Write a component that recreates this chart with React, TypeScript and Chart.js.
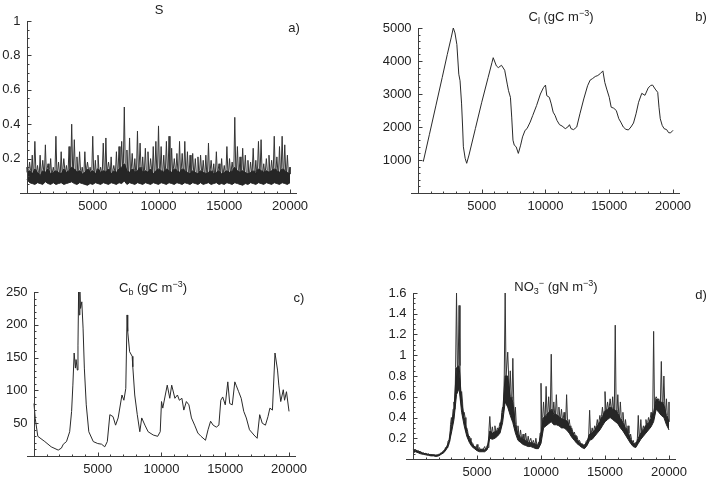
import React, { useEffect, useRef } from "react";
import { Chart, registerables } from "chart.js";

Chart.register(...registerables);

// ---------- shared axis values ----------
const X_TICKS = [5000, 10000, 15000, 20000];
const X_RANGE = [-500, 20500];
const T_END = 20000;
const SAMPLE_STEP = 200; // spacing of the noisy samples (panels a and d)

// ---------- panel a: S (bottom edge / dense core top / spike tops) ----------
const S_LOW = [
  0.08, 0.06, 0.055, 0.05, 0.06, 0.055, 0.05, 0.065, 0.055, 0.05,
  0.06, 0.05, 0.055, 0.06, 0.05, 0.055, 0.06, 0.065, 0.055, 0.05,
  0.06, 0.055, 0.05, 0.045, 0.055, 0.05, 0.06, 0.055, 0.05, 0.06,
  0.055, 0.05, 0.06, 0.055, 0.05, 0.06, 0.055, 0.07, 0.05, 0.06,
  0.055, 0.05, 0.06, 0.055, 0.05, 0.06, 0.055, 0.05, 0.06, 0.055,
  0.05, 0.06, 0.055, 0.05, 0.06, 0.055, 0.05, 0.06, 0.055, 0.05,
  0.06, 0.055, 0.05, 0.06, 0.055, 0.05, 0.06, 0.05, 0.055, 0.06,
  0.05, 0.055, 0.06, 0.05, 0.055, 0.05, 0.06, 0.055, 0.05, 0.06,
  0.055, 0.05, 0.045, 0.055, 0.05, 0.06, 0.055, 0.05, 0.06, 0.055,
  0.05, 0.06, 0.055, 0.05, 0.06, 0.055, 0.05, 0.06, 0.055, 0.05,
  0.06,
];
const S_CORE = [
  0.12, 0.13, 0.11, 0.14, 0.12, 0.10, 0.13, 0.12, 0.14, 0.11,
  0.12, 0.13, 0.12, 0.11, 0.14, 0.12, 0.13, 0.15, 0.14, 0.12,
  0.13, 0.11, 0.12, 0.14, 0.12, 0.13, 0.11, 0.14, 0.12, 0.13,
  0.12, 0.14, 0.11, 0.13, 0.12, 0.14, 0.15, 0.17, 0.13, 0.12,
  0.14, 0.12, 0.13, 0.15, 0.12, 0.13, 0.12, 0.14, 0.11, 0.13,
  0.14, 0.13, 0.12, 0.14, 0.13, 0.12, 0.14, 0.13, 0.12, 0.14,
  0.13, 0.12, 0.11, 0.13, 0.12, 0.11, 0.13, 0.12, 0.11, 0.12,
  0.13, 0.11, 0.12, 0.13, 0.11, 0.12, 0.13, 0.12, 0.13, 0.15,
  0.13, 0.12, 0.13, 0.12, 0.11, 0.12, 0.13, 0.11, 0.14, 0.13,
  0.12, 0.13, 0.12, 0.13, 0.14, 0.13, 0.12, 0.14, 0.13, 0.12,
  0.11,
];
const S_HIGH = [
  0.15, 0.18, 0.22, 0.30, 0.16, 0.22, 0.19, 0.28, 0.17, 0.20,
  0.15, 0.33, 0.18, 0.24, 0.20, 0.16, 0.27, 0.40, 0.31, 0.21,
  0.24, 0.15, 0.24, 0.18, 0.15, 0.33, 0.19, 0.22, 0.15, 0.29,
  0.32, 0.18, 0.21, 0.16, 0.24, 0.27, 0.30, 0.50, 0.25, 0.32,
  0.23, 0.20, 0.36, 0.29, 0.21, 0.26, 0.24, 0.20, 0.27, 0.30,
  0.39, 0.27, 0.22, 0.30, 0.33, 0.26, 0.20, 0.23, 0.30, 0.23,
  0.30, 0.24, 0.22, 0.23, 0.20, 0.21, 0.22, 0.19, 0.22, 0.29,
  0.19, 0.17, 0.24, 0.17, 0.20, 0.16, 0.27, 0.20, 0.18, 0.44,
  0.27, 0.21, 0.26, 0.22, 0.19, 0.18, 0.26, 0.19, 0.30, 0.31,
  0.17, 0.20, 0.22, 0.19, 0.33, 0.21, 0.27, 0.33, 0.28, 0.22,
  0.15,
];

// ---------- panel b: C_l ----------
const CL_T = [
  416, 900, 1400, 1900, 2300, 2600, 2770, 2900, 3050, 3200,
  3300, 3420, 3500, 3560, 3700, 3820, 4000, 4500, 5000, 5500,
  5800, 5900, 6000, 6150, 6300, 6550, 6800, 7000, 7100, 7250,
  7350, 7450, 7550, 7700, 7870, 8050, 8200, 8400, 8550, 8800,
  9000, 9300, 9600, 9850, 10000, 10100, 10300, 10450, 10600, 10750,
  10900, 11100, 11300, 11550, 11750, 11880, 12000, 12200, 12450, 12700,
  13000, 13300, 13500, 13700, 13900, 14100, 14300, 14500, 14650, 14800,
  15000, 15150, 15350, 15550, 15750, 15900, 16100, 16300, 16500, 16700,
  16900, 17100, 17300, 17550, 17800, 18050, 18250, 18400, 18600, 18800,
  18900, 19000, 19150, 19300, 19500, 19650, 19800, 20000,
];
const CL_V = [
  950, 1780, 2640, 3500, 4200, 4700, 5000, 4850, 4500, 3600,
  3400, 2700, 2000, 1400, 1050, 900, 1150, 1950, 2750, 3500,
  3950, 4100, 4000, 3850, 3800, 3870, 3720, 3300, 3100, 2900,
  2300, 1600, 1450, 1400, 1200, 1450, 1700, 1900, 1950, 2150,
  2350, 2650, 3000, 3200, 3270, 2950, 2900, 2700, 2450, 2350,
  2200, 2070, 2030, 1950, 2000, 2070, 1950, 1920, 2000, 2400,
  2850, 3250, 3420, 3470, 3530, 3560, 3620, 3700, 3350, 3150,
  2900, 2600, 2570, 2500, 2250, 2150, 2000, 1930, 1910, 2000,
  2120, 2400, 2750, 3020, 2960, 3180, 3260, 3270, 3150, 3050,
  2600, 2250, 2050, 1950, 1920, 1830, 1820, 1900,
];

// ---------- panel c: C_b ----------
const CB_T = [
  0, 100, 300, 850, 1350, 1900, 2150, 2300, 2550, 2800,
  2950, 3050, 3150, 3250, 3300, 3400, 3450, 3500, 3550, 3600,
  3650, 3750, 3850, 3950, 4100, 4300, 4650, 5000, 5300, 5550,
  5750, 5950, 6200, 6400, 6600, 6900, 7050, 7200, 7300, 7350,
  7500, 7700, 7750, 7900, 8100, 8300, 8450, 8700, 8950, 9350,
  9700, 9900, 10000, 10100, 10300, 10450, 10650, 10800, 11050, 11250,
  11400, 11600, 11750, 11950, 12150, 12350, 12600, 12850, 13100, 13450,
  13650, 13850, 14050, 14300, 14500, 14650, 14800, 15000, 15200, 15350,
  15550, 15750, 15850, 16050, 16250, 16450, 16650, 16900, 17250, 17500,
  17700, 17900, 18150, 18350, 18500, 18700, 18900, 19100, 19200, 19350,
  19550, 19650, 19800, 20000,
];
const CB_V = [
  80, 57, 30, 22, 14, 9, 12, 18, 22, 37,
  68, 108, 157, 134, 147, 131, 169, 251, 215, 250,
  225, 235, 195, 134, 78, 37, 22, 19, 18, 14,
  22, 63, 60, 47, 58, 93, 85, 103, 215, 190,
  159, 152, 136, 93, 63, 37, 58, 47, 37, 32,
  30, 37, 83, 73, 93, 108, 88, 108, 88, 93,
  85, 88, 70, 83, 78, 58, 47, 35, 30, 24,
  40, 53, 47, 44, 47, 85, 90, 78, 113, 80,
  78, 113, 108, 98, 88, 68, 58, 40, 32, 27,
  63, 50, 47, 60, 73, 70, 157, 131, 108, 83,
  101, 85, 98, 68,
];

// ---------- panel d: NO3- (bottom edge / dense core top / spike tops) ----------
const NO_LOW = [
  0.06, 0.07, 0.06, 0.05, 0.045, 0.04, 0.035, 0.03, 0.03, 0.025,
  0.03, 0.045, 0.06, 0.09, 0.14, 0.25, 0.38, 0.62, 0.68, 0.45,
  0.32, 0.22, 0.16, 0.12, 0.10, 0.08, 0.07, 0.07, 0.07, 0.09,
  0.20, 0.19, 0.20, 0.22, 0.25, 0.35, 0.55, 0.50, 0.42, 0.35,
  0.25, 0.18, 0.16, 0.14, 0.13, 0.12, 0.12, 0.11, 0.10, 0.10,
  0.15, 0.30, 0.32, 0.34, 0.36, 0.33, 0.33, 0.32, 0.30, 0.30,
  0.28, 0.25, 0.21, 0.18, 0.15, 0.13, 0.11, 0.10, 0.13, 0.18,
  0.19, 0.22, 0.25, 0.28, 0.32, 0.36, 0.38, 0.40, 0.38, 0.36,
  0.34, 0.30, 0.27, 0.23, 0.19, 0.15, 0.12, 0.11, 0.15, 0.19,
  0.22, 0.25, 0.28, 0.31, 0.36, 0.48, 0.45, 0.42, 0.40, 0.33,
  0.28,
];
const NO_CORE = [
  0.09, 0.085, 0.075, 0.065, 0.055, 0.05, 0.045, 0.04, 0.04, 0.035,
  0.04, 0.055, 0.075, 0.11, 0.17, 0.33, 0.48, 0.88, 0.90, 0.55,
  0.40, 0.27, 0.20, 0.15, 0.12, 0.10, 0.09, 0.09, 0.09, 0.11,
  0.27, 0.25, 0.26, 0.27, 0.31, 0.45, 0.80, 0.80, 0.60, 0.55,
  0.33, 0.24, 0.21, 0.19, 0.18, 0.16, 0.16, 0.15, 0.14, 0.13,
  0.25, 0.40, 0.42, 0.45, 0.48, 0.43, 0.43, 0.41, 0.39, 0.38,
  0.37, 0.32, 0.27, 0.23, 0.19, 0.16, 0.14, 0.13, 0.17, 0.24,
  0.25, 0.28, 0.32, 0.36, 0.41, 0.46, 0.48, 0.50, 0.48, 0.47,
  0.44, 0.39, 0.35, 0.30, 0.25, 0.19, 0.15, 0.14, 0.20, 0.25,
  0.28, 0.32, 0.35, 0.39, 0.45, 0.58, 0.55, 0.55, 0.52, 0.42,
  0.36,
];
const NO_HIGH = [
  0.10, 0.09, 0.08, 0.07, 0.06, 0.055, 0.05, 0.045, 0.04, 0.04,
  0.045, 0.06, 0.08, 0.11, 0.18, 0.40, 0.55, 1.60, 1.48, 0.65,
  0.45, 0.30, 0.22, 0.16, 0.12, 0.14, 0.11, 0.10, 0.12, 0.13,
  0.41, 0.31, 0.32, 0.30, 0.35, 0.50, 1.60, 1.03, 0.85, 0.97,
  0.50, 0.32, 0.28, 0.24, 0.25, 0.22, 0.20, 0.18, 0.20, 0.16,
  0.73, 0.55, 0.70, 0.60, 1.01, 0.55, 0.62, 0.50, 0.48, 0.45,
  0.62, 0.38, 0.30, 0.26, 0.22, 0.18, 0.15, 0.14, 0.18, 0.47,
  0.30, 0.32, 0.38, 0.42, 0.50, 0.65, 0.55, 0.58, 0.60, 1.29,
  0.62, 0.55, 0.45, 0.38, 0.32, 0.24, 0.18, 0.16, 0.42, 0.38,
  0.32, 0.38, 0.40, 0.45, 1.23, 0.60, 0.58, 0.94, 0.80, 0.58,
  0.55,
];

// ---------- styling ----------
const FONT = "'Liberation Sans', Arial, Helvetica, sans-serif";
const INK = "#222";
const AXIS = "#3c3c3c";

type Pt = { x: number; y: number };

// one point per sample at its sample time
function seriesPoints(values: number[]): Pt[] {
  return values.map((v, i) => ({ x: i * SAMPLE_STEP, y: v }));
}

// narrow spikes: base -> top -> base around every sample time
function spikePoints(base: number[], top: number[], half: number): Pt[] {
  const pts: Pt[] = [];
  for (let i = 0; i < top.length; i++) {
    const t = i * SAMPLE_STEP;
    pts.push({ x: Math.max(0, t - half), y: base[i] });
    pts.push({ x: t, y: top[i] });
    pts.push({ x: Math.min(T_END, t + half), y: base[i] });
  }
  return pts;
}

function pairsToPoints(ts: number[], vs: number[]): Pt[] {
  return ts.map((t, i) => ({ x: t, y: vs[i] }));
}

const fmt = (v: number) => String(Math.round(v * 100) / 100);

const mmaAxes = {
  id: "mmaAxes",
  afterDraw(chart: any, _args: any, o: any) {
    const xs = chart.scales.x;
    const ys = chart.scales.y;
    const ctx = chart.ctx;
    const ox = Math.round(xs.getPixelForValue(0)) + 0.5;
    const oy = Math.round(ys.getPixelForValue(0)) + 0.5;
    const top = Math.round(ys.getPixelForValue(ys.max));
    ctx.save();
    ctx.strokeStyle = AXIS;
    ctx.lineWidth = 1;
    ctx.beginPath();
    ctx.moveTo(ox, oy);
    ctx.lineTo(ox, top);
    for (let k = 1; k * o.xMinor <= T_END + 1e-6; k++) {
      const v = k * o.xMinor;
      const px = Math.round(xs.getPixelForValue(v)) + 0.5;
      const major = Math.abs(v / o.xMajor - Math.round(v / o.xMajor)) < 1e-6;
      ctx.moveTo(px, oy);
      ctx.lineTo(px, oy - (major ? 4 : 2));
    }
    for (let k = 1; k * o.yMinor <= ys.max + 1e-9; k++) {
      const v = k * o.yMinor;
      const py = Math.round(ys.getPixelForValue(v)) + 0.5;
      const major = Math.abs(v / o.yMajor - Math.round(v / o.yMajor)) < 1e-6;
      ctx.moveTo(ox, py);
      ctx.lineTo(ox + (major ? 4 : 2), py);
    }
    ctx.stroke();
    ctx.restore();
  },
};

type DS = { points: Pt[]; color: string; fillPrev?: boolean; width?: number };

type Panel = {
  key: string;
  left: number;
  top: number;
  w: number;
  h: number;
  area: { l: number; t: number; r: number; b: number };
  yMax: number;
  yStep: number;
  yMinor: number;
  sets: DS[];
};

const PANELS: Panel[] = [
  {
    key: "a", left: 0, top: 0, w: 357, h: 242,
    area: { l: 20.4, t: 21, r: 296.6, b: 193 },
    yMax: 1, yStep: 0.2, yMinor: 0.05,
    sets: [
      { points: seriesPoints(S_LOW), color: "#222" },
      { points: seriesPoints(S_CORE), color: "#222", fillPrev: true },
      { points: spikePoints(S_CORE, S_HIGH, 70), color: "#333" },
    ],
  },
  {
    key: "b", left: 357, top: 0, w: 358, h: 242,
    area: { l: 54.6, t: 28, r: 322.4, b: 193 },
    yMax: 5000, yStep: 1000, yMinor: 200,
    sets: [{ points: pairsToPoints(CL_T, CL_V), color: "#2a2a2a" }],
  },
  {
    key: "c", left: 0, top: 242, w: 357, h: 242,
    area: { l: 27.6, t: 50, r: 295.4, b: 214 },
    yMax: 250, yStep: 50, yMinor: 10,
    sets: [{ points: pairsToPoints(CB_T, CB_V), color: "#2a2a2a" }],
  },
  {
    key: "d", left: 357, top: 242, w: 358, h: 242,
    area: { l: 49.6, t: 51, r: 318.4, b: 217 },
    yMax: 1.6, yStep: 0.2, yMinor: 0.05,
    sets: [
      { points: seriesPoints(NO_LOW), color: "#222" },
      { points: seriesPoints(NO_CORE), color: "#222", fillPrev: true },
      { points: spikePoints(NO_CORE, NO_HIGH, 70), color: "#333" },
    ],
  },
];

function makeChart(canvas: HTMLCanvasElement, p: Panel) {
  const tickFont = { family: FONT, size: 13 };
  return new Chart(canvas, {
    type: "line",
    data: {
      datasets: p.sets.map((s) => ({
        data: s.points,
        borderColor: s.color,
        backgroundColor: s.fillPrev ? "#262626" : "transparent",
        borderWidth: s.width ?? 1,
        pointRadius: 0,
        tension: 0,
        fill: s.fillPrev ? "-1" : false,
      })),
    },
    options: {
      animation: false,
      responsive: false,
      devicePixelRatio: 1,
      events: [],
      layout: { padding: { left: 0, top: p.area.t, right: p.w - p.area.r, bottom: 0 } },
      plugins: {
        legend: { display: false },
        tooltip: { enabled: false },
        mmaAxes: { xMinor: 1000, xMajor: 5000, yMinor: p.yMinor, yMajor: p.yStep },
      } as any,
      scales: {
        x: {
          type: "linear",
          position: "bottom",
          min: X_RANGE[0],
          max: X_RANGE[1],
          afterFit: (s: any) => { s.height = p.h - p.area.b; },
          afterBuildTicks: (s: any) => { s.ticks = X_TICKS.map((v) => ({ value: v })); },
          grid: { display: false, drawTicks: false },
          border: { display: true, color: AXIS, width: 1 },
          ticks: {
            padding: 6,
            color: INK,
            font: tickFont,
            maxRotation: 0,
            autoSkip: false,
            callback: (v: any) => String(v),
          },
        },
        y: {
          type: "linear",
          position: "left",
          min: 0,
          max: p.yMax,
          afterFit: (s: any) => { s.width = p.area.l; },
          grid: { display: false, drawTicks: false },
          border: { display: false },
          ticks: {
            stepSize: p.yStep,
            padding: 0,
            color: INK,
            font: tickFont,
            autoSkip: false,
            callback: (v: any) => (Math.abs(v) < 1e-9 ? "" : fmt(Number(v))),
          },
        },
      },
    } as any,
    plugins: [mmaAxes as any],
  });
}

const subStyle: React.CSSProperties = { fontSize: 9, position: "relative", top: 3 };
const supStyle: React.CSSProperties = { fontSize: 9, position: "relative", top: -5 };

function Label({ x, y, children }: { x: number; y: number; children: React.ReactNode }) {
  return (
    <div
      style={{
        position: "absolute",
        left: x - 100,
        top: y - 9,
        width: 200,
        textAlign: "center",
        fontFamily: FONT,
        fontSize: 13,
        lineHeight: "18px",
        color: INK,
        whiteSpace: "nowrap",
      }}
    >
      {children}
    </div>
  );
}

export default function App() {
  const refs = useRef<(HTMLCanvasElement | null)[]>([]);

  useEffect(() => {
    const charts = PANELS.map((p, i) => makeChart(refs.current[i] as HTMLCanvasElement, p));
    return () => charts.forEach((c) => c.destroy());
  }, []);

  return (
    <div
      style={{
        position: "fixed",
        left: 0,
        top: 0,
        width: 715,
        height: 484,
        background: "#fff",
        overflow: "hidden",
      }}
    >
      {PANELS.map((p, i) => (
        <canvas
          key={p.key}
          ref={(el) => { refs.current[i] = el; }}
          width={p.w}
          height={p.h}
          style={{ position: "absolute", left: p.left, top: p.top, width: p.w, height: p.h }}
        />
      ))}
      <Label x={159} y={10}>S</Label>
      <Label x={294} y={28}>a)</Label>
      <Label x={561} y={17}>
        C<span style={subStyle}>l</span> (gC m<span style={supStyle}>−3</span>)
      </Label>
      <Label x={701} y={17}>b)</Label>
      <Label x={153} y={288}>
        C<span style={subStyle}>b</span> (gC m<span style={supStyle}>−3</span>)
      </Label>
      <Label x={299} y={298}>c)</Label>
      <Label x={556} y={287}>
        NO<span style={subStyle}>3</span><span style={supStyle}>−</span> (gN m<span style={supStyle}>−3</span>)
      </Label>
      <Label x={701} y={295}>d)</Label>
    </div>
  );
}
